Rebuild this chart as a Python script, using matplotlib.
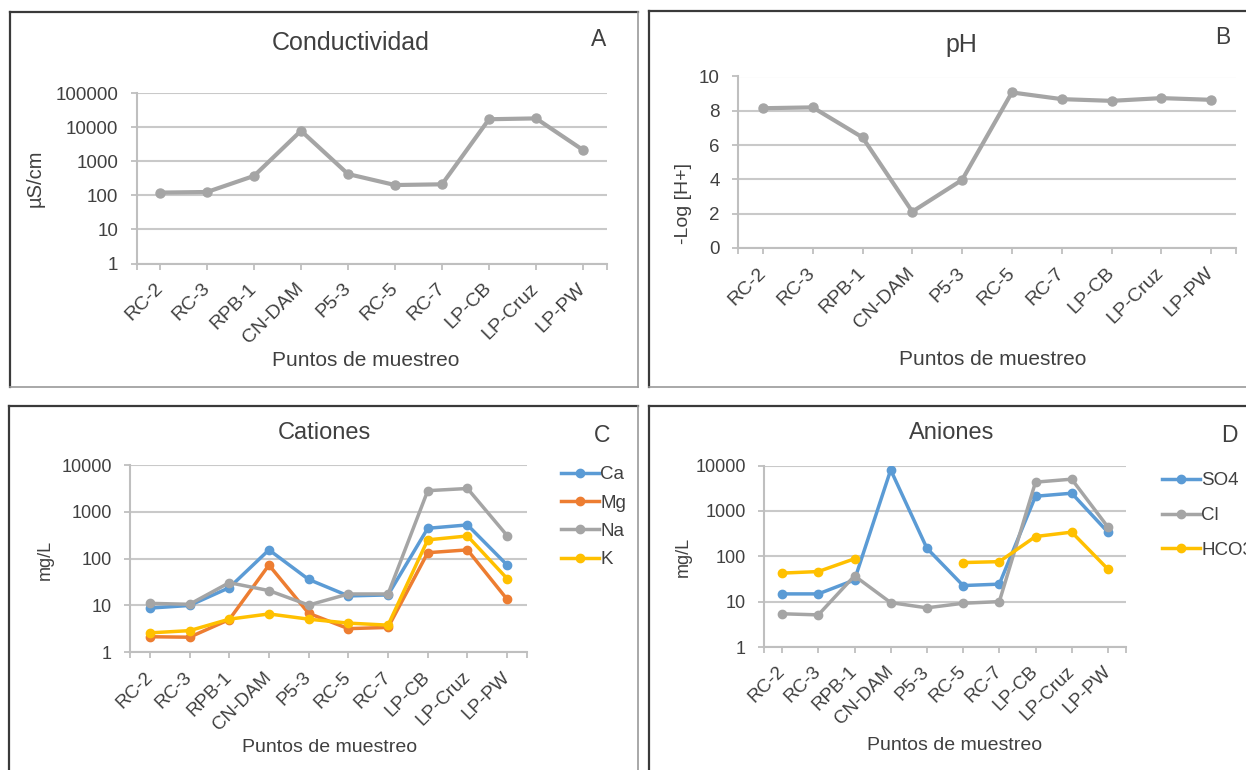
import numpy as np
import matplotlib
matplotlib.use('Agg')
import matplotlib.pyplot as plt
from matplotlib.lines import Line2D

plt.rcParams['font.family'] = ['Liberation Sans', 'DejaVu Sans']

sites = ['RC-2', 'RC-3', 'RPB-1', 'CN-DAM', 'P5-3', 'RC-5', 'RC-7',
         'LP-CB', 'LP-Cruz', 'LP-PW']

# conductividad (uS/cm) y pH
conductividad = [120, 125, 370, 7800, 420, 200, 210, 17000, 18000, 2130]
ph = [8.15, 8.2, 6.45, 2.12, 3.97, 9.07, 8.68, 8.58, 8.74, 8.64]

# cationes (mg/L)
ca = [8.8, 10.0, 24, 154, 36, 16, 16.8, 445, 525, 73]
mg = [2.15, 2.1, 5.0, 73, 6.8, 3.2, 3.4, 134, 154, 13.5]
na = [11.1, 10.6, 30.7, 20.8, 10.2, 17.6, 17.6, 2830, 3150, 310]
k = [2.6, 2.9, 5.1, 6.6, 5.1, 4.2, 3.8, 252, 305, 37.4]

# aniones (mg/L); sin HCO3 en CN-DAM y P5-3
so4 = [14.8, 14.8, 30, 8000, 150, 22.6, 24.3, 2100, 2450, 340]
cl = [5.4, 5.1, 37, 9.5, 7.3, 9.2, 10, 4300, 5000, 440]
hco3 = [42.5, 46, 88, np.nan, np.nan, 72.6, 76, 272, 340, 52]

BLUE = '#5B9BD5'
ORANGE = '#ED7D31'
GRAY = '#A5A5A5'
YELLOW = '#FFC000'
TXT = '#404040'
GRID = '#C9C9C9'

W, H = 1246, 770
fig = plt.figure(figsize=(W / 100, H / 100), dpi=100)


def px_axes(x0, y0, x1, y1):
    return fig.add_axes([x0 / W, 1 - y1 / H, (x1 - x0) / W, (y1 - y0) / H])


def frame(x0, y0, x1, y1):
    # dark on left/top, lighter on right/bottom
    fx = lambda x: x / W
    fy = lambda y: 1 - y / H
    fig.add_artist(Line2D([fx(x0), fx(x0)], [fy(y0), fy(y1)], color='#3a3a3a', lw=1.6))
    fig.add_artist(Line2D([fx(x0), fx(x1)], [fy(y0), fy(y0)], color='#3a3a3a', lw=1.6))
    fig.add_artist(Line2D([fx(x1), fx(x1)], [fy(y0), fy(y1)], color='#9a9a9a', lw=1.2))
    fig.add_artist(Line2D([fx(x0), fx(x1)], [fy(y1), fy(y1)], color='#9a9a9a', lw=1.2))


def ftext(x, y, s, size, **kw):
    fig.text(x / W, 1 - y / H, s, fontsize=size, color=kw.pop('color', TXT),
             ha='center', va='center', **kw)


def style(ax, log, ticks, ysize, xsize):
    x = np.arange(len(sites))
    ax.set_xlim(-0.5, len(sites) - 0.5)
    if log:
        ax.set_yscale('log')
        ax.minorticks_off()
    ax.set_ylim(ticks[0], ticks[-1])
    ax.set_yticks(ticks)
    ax.set_yticklabels([str(t) for t in ticks])
    ax.yaxis.set_minor_locator(matplotlib.ticker.NullLocator())
    ax.set_xticks(x)
    ax.set_xticks([-0.5, len(sites) - 0.5], minor=True)
    ax.set_xticklabels(sites, rotation=45, ha='right', va='center',
                       rotation_mode='anchor')
    for s in ['top', 'right']:
        ax.spines[s].set_visible(False)
    for s in ['left', 'bottom']:
        ax.spines[s].set_color('#BFBFBF')
        ax.spines[s].set_linewidth(1.5)
    ax.grid(axis='y', color=GRID, lw=1.5)
    ax.set_axisbelow(True)
    ax.tick_params(axis='both', which='both', colors='#BFBFBF', width=1.3,
                   length=4, labelcolor=TXT)
    ax.tick_params(axis='y', pad=9, labelsize=ysize)
    ax.tick_params(axis='x', pad=12, labelsize=xsize)
    ax.set_facecolor('none')


x = np.arange(len(sites))

# A: conductividad
frame(10, 11.5, 637.5, 387)
axA = px_axes(136.5, 93, 606.5, 263.5)
axA.plot(x, conductividad, color=GRAY, lw=3, marker='o', ms=6.5)
style(axA, True, [1, 10, 100, 1000, 10000, 100000], 13.5, 14)
ftext(351, 43, 'Conductividad', 18)
ftext(599, 40, 'A', 16.5)
ftext(366, 361, 'Puntos de muestreo', 15)
ftext(35, 178, 'µS/cm', 14.5, rotation=90)

# B: pH
frame(649, 11, 1300, 387)
axB = px_axes(738, 76.5, 1236, 248)
axB.plot(x, ph, color=GRAY, lw=3, marker='o', ms=6.5)
style(axB, False, [0, 2, 4, 6, 8, 10], 13.5, 14)
ftext(961, 45, 'pH', 18)
ftext(1223, 37, 'B', 16.5)
ftext(993, 360, 'Puntos de muestreo', 15)
ftext(683, 204, '-Log [H+]', 14, rotation=90)

# C: cationes
frame(9, 405.5, 637.5, 800)
axC = px_axes(130, 465, 527, 652.3)
for vals, col, lab in [(ca, BLUE, 'Ca'), (mg, ORANGE, 'Mg'),
                       (na, GRAY, 'Na'), (k, YELLOW, 'K')]:
    axC.plot(x, vals, color=col, lw=2.5, marker='o', ms=6, label=lab)
style(axC, True, [1, 10, 100, 1000, 10000], 13, 13.5)
axC.legend(loc='upper left', bbox_to_anchor=(561 / W, 1 - 466 / H),
           bbox_transform=fig.transFigure, frameon=False, fontsize=13.5,
           handlelength=2.0, handletextpad=0.1, labelspacing=0.6,
           borderpad=0, borderaxespad=0, labelcolor=TXT)
ftext(324, 433, 'Cationes', 17)
ftext(602, 435, 'C', 16.5)
ftext(330, 748, 'Puntos de muestreo', 14)
ftext(45, 560, 'mg/L', 13, rotation=90)

# D: aniones
frame(649, 405.5, 1300, 800)
axD = px_axes(764, 465.5, 1126, 647)
for vals, col, lab in [(so4, BLUE, 'SO4'), (cl, GRAY, 'Cl'),
                       (hco3, YELLOW, 'HCO3')]:
    axD.plot(x, vals, color=col, lw=2.5, marker='o', ms=6, label=lab)
style(axD, True, [1, 10, 100, 1000, 10000], 13, 13.5)
axD.legend(loc='upper left', bbox_to_anchor=(1162 / W, 1 - 472 / H),
           bbox_transform=fig.transFigure, frameon=False, fontsize=13.5,
           handlelength=2.0, handletextpad=0.1, labelspacing=0.95,
           borderpad=0, borderaxespad=0, labelcolor=TXT)
ftext(952, 433, 'Aniones', 17)
ftext(1229, 436, 'D', 16.5)
ftext(955, 746, 'Puntos de muestreo', 14)
ftext(683, 557, 'mg/L', 13, rotation=90)

fig.savefig('out.png', dpi=100, facecolor='white')
